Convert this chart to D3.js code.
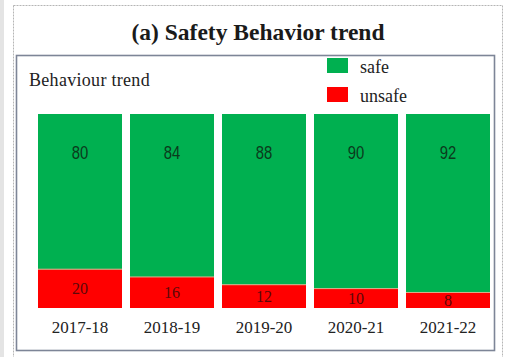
<!DOCTYPE html>
<html>
<head>
<meta charset="utf-8">
<script src="https://cdn.jsdelivr.net/npm/d3@7"></script>
<style>
  html, body { margin: 0; padding: 0; background: #ffffff; }
  svg { display: block; }
</style>
</head>
<body>
<svg id="chart" width="510" height="357"></svg>
<script>
// ---- data ----
const years = ["2017-18", "2018-19", "2019-20", "2020-21", "2021-22"];
const safe = [80, 84, 88, 90, 92];
const unsafe = [20, 16, 12, 10, 8];
const seriesNames = ["safe", "unsafe"];
const seriesColors = ["#00b050", "#ff0000"];
const titleText = "(a) Safety Behavior trend";
const subtitleText = "Behaviour trend";

// ---- build table ----
const table = years.map((yr, i) => ({ year: yr, safe: safe[i], unsafe: unsafe[i] }));
const stack = d3.stack().keys(["unsafe", "safe"]);
const layers = stack(table);
const color = d3.scaleOrdinal().domain(seriesNames).range(seriesColors);

const svg = d3.select("#chart");
const W = 510, H = 357;

// outer frame pieces
svg.append("rect").attr("x", 0).attr("y", 0).attr("width", 4).attr("height", H).attr("fill", "#e4e4e4");
svg.append("rect")
  .attr("x", 13.5).attr("y", 5.5).attr("width", 489).attr("height", H + 10)
  .attr("fill", "none").attr("stroke", "#b5b5b5").attr("stroke-width", 1)
  .attr("stroke-dasharray", "2,1");

// inner plot box
svg.append("rect")
  .attr("x", 16.5).attr("y", 55.5).attr("width", 478).attr("height", 295)
  .attr("fill", "#ffffff").attr("stroke", "#7d8597").attr("stroke-width", 1.6);

// title
svg.append("text")
  .attr("x", 258).attr("y", 40)
  .attr("text-anchor", "middle")
  .attr("font-family", "'Liberation Serif', 'DejaVu Serif', serif")
  .attr("font-weight", "bold")
  .attr("font-size", 23.5)
  .attr("fill", "#1a1a1a")
  .text(titleText);

svg.append("text")
  .attr("x", 29).attr("y", 86)
  .attr("font-family", "'Liberation Serif', serif")
  .attr("font-size", 18)
  .attr("letter-spacing", 0.3)
  .attr("fill", "#222")
  .text(subtitleText);

// legend
const legend = svg.append("g").attr("transform", "translate(327,58)");
const li = legend.selectAll("g").data(seriesNames).join("g")
  .attr("transform", (d, i) => `translate(0,${i * 29})`);
li.append("rect").attr("width", 21).attr("height", 15).attr("fill", d => color(d));
li.append("text")
  .attr("x", 33).attr("y", 15)
  .attr("font-family", "'Liberation Serif', serif")
  .attr("font-size", 18)
  .attr("fill", "#222")
  .text(d => d);

// scales
const x = d3.scaleBand().domain(years).range([38, 490]).paddingInner(0.087).paddingOuter(0);
const y = d3.scaleLinear().domain([0, 100]).range([308, 114]);

// bars
const g = svg.append("g");
layers.forEach(layer => {
  g.append("g").selectAll("rect").data(layer).join("rect")
    .attr("x", d => x(d.data.year))
    .attr("y", d => y(d[1]))
    .attr("width", x.bandwidth())
    .attr("height", d => y(d[0]) - y(d[1]))
    .attr("fill", color(layer.key));
});

// separator between segments
g.append("g").selectAll("line").data(table).join("line")
  .attr("x1", d => x(d.year)).attr("x2", d => x(d.year) + x.bandwidth())
  .attr("y1", d => y(d.unsafe)).attr("y2", d => y(d.unsafe))
  .attr("stroke", "#d9b08a").attr("stroke-width", 1);

// labels: safe near top of green segment (condensed look)
const safeLayer = layers.find(l => l.key === "safe");
g.append("g").selectAll("text").data(safeLayer).join("text")
  .attr("transform", d => `translate(${x(d.data.year) + x.bandwidth() / 2},${y(d[1]) + 45}) scale(0.78,1)`)
  .attr("text-anchor", "middle")
  .attr("font-family", "'Liberation Sans', sans-serif")
  .attr("font-size", 19)
  .attr("fill", "#0b3a1c")
  .text(d => d.data.safe);

// labels: unsafe centered in red segment
const unsafeLayer = layers.find(l => l.key === "unsafe");
g.append("g").selectAll("text").data(unsafeLayer).join("text")
  .attr("x", d => x(d.data.year) + x.bandwidth() / 2)
  .attr("y", d => (y(d[0]) + y(d[1])) / 2)
  .attr("dy", "0.35em")
  .attr("text-anchor", "middle")
  .attr("font-family", "'Liberation Serif', serif")
  .attr("font-size", 16)
  .attr("fill", "#5c0808")
  .text(d => d.data.unsafe);

// x axis
const axis = svg.append("g")
  .attr("transform", `translate(0,${y(0)})`)
  .call(d3.axisBottom(x).tickSize(0).tickPadding(13));
axis.select(".domain").remove();
axis.selectAll("text")
  .attr("font-family", "'Liberation Serif', serif")
  .attr("font-size", 17)
  .attr("fill", "#222");
</script>
</body>
</html>
